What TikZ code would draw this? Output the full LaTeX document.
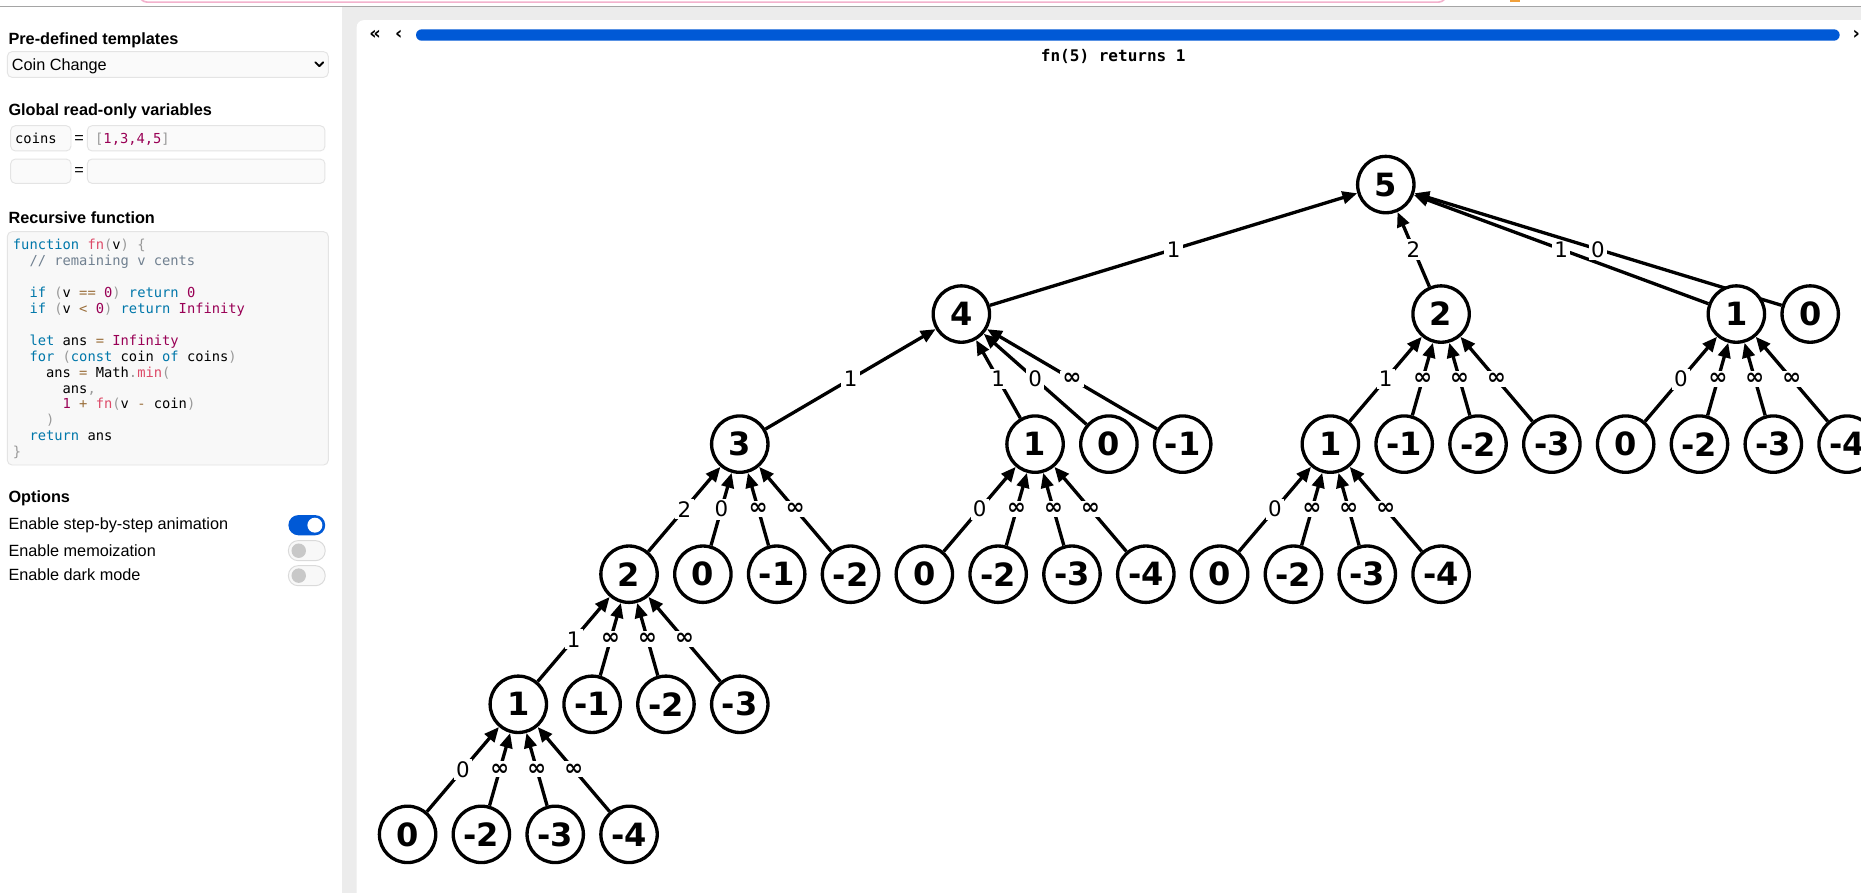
\documentclass[tikz,border=0pt]{standalone}
\usepackage{fontspec}
\setmainfont{Liberation Sans}
\newfontfamily\uifont{Liberation Sans}
\newfontfamily\numfont{DejaVu Sans}
\newfontfamily\monofont{DejaVu Sans Mono}
\usetikzlibrary{arrows.meta}
\pgfdeclarelayer{bg}
\pgfdeclarelayer{edges}
\pgfsetlayers{bg,edges,main}
\definecolor{kwc}{RGB}{0,119,170}
\definecolor{fnc}{RGB}{221,74,104}
\definecolor{numc}{RGB}{153,0,85}
\definecolor{cmtc}{RGB}{112,128,144}
\definecolor{opc}{RGB}{154,110,58}
\definecolor{punc}{RGB}{153,153,153}
\definecolor{panelgray}{RGB}{236,236,236}
\definecolor{linegray}{RGB}{165,165,165}
\definecolor{pinkline}{RGB}{243,178,205}
\definecolor{barblue}{RGB}{0,89,214}
\definecolor{boxfill}{RGB}{250,250,250}
\definecolor{boxline}{RGB}{228,228,228}
\definecolor{knobgray}{RGB}{200,200,200}
\definecolor{orangebit}{RGB}{240,160,60}
\newcommand\ckw[1]{\textcolor{kwc}{#1}}
\newcommand\cfnn[1]{\textcolor{fnc}{#1}}
\newcommand\cnum[1]{\textcolor{numc}{#1}}
\newcommand\ccmt[1]{\textcolor{cmtc}{#1}}
\newcommand\cop[1]{\textcolor{opc}{#1}}
\newcommand\cpun[1]{\textcolor{punc}{#1}}
\newcommand\infsym{{\bfseries\fontsize{19}{19}\selectfont ∞}}
\tikzset{
  uitext/.style={anchor=base west, inner sep=0pt, font={\uifont\fontsize{13.7}{16}\selectfont}},
  uihead/.style={uitext, font={\uifont\bfseries\fontsize{13.7}{16}\selectfont}},
  codeline/.style={anchor=base west, inner sep=0pt, font={\monofont\fontsize{11.6}{13}\selectfont}},
  uibox/.style={fill=boxfill, draw=boxline, line width=0.8pt, rounded corners=4pt},
  circ/.style={circle, draw, line width=2.8pt, fill=white, minimum size=47.5pt, inner sep=0pt,
    font={\numfont\bfseries\fontsize{27}{27}\selectfont}},
  edge/.style={line width=2.8pt, -{Triangle[length=12.5pt,width=10.5pt]}},
  lbl/.style={fill=white, inner sep=2pt, font={\numfont\fontsize{18}{18}\selectfont}},
  ctrl/.style={inner sep=0pt, font={\numfont\bfseries\fontsize{15}{15}\selectfont}}
}
\begin{document}
\begin{tikzpicture}[x=1pt,y=-1pt]
\useasboundingbox (0,0) rectangle (1568,752);
\begin{pgfonlayer}{bg}
  \fill[white] (0,0) rectangle (1568,752);
  \fill[panelgray] (288,5.5) rectangle (1568,752);
  \fill[white, rounded corners=6pt] (300.5,17) rectangle (1590,770);
  \draw[linegray, line width=1.2pt] (0,5.5) -- (1568,5.5);
  \draw[pinkline, line width=1.4pt] (117,-6) to[out=-90,in=180] (124,1.8) -- (1212,1.8) to[out=0,in=-90] (1219,-6);
  \fill[orangebit] (1272,-1) rectangle (1281,2);
  % left panel controls
  \path[uibox] (6.2,43.5) rectangle (276.6,65.2);
  \path[uibox] (9,105.9) rectangle (59.8,127.2);
  \path[uibox] (73.6,105.9) rectangle (273.8,127.2);
  \path[uibox] (9,134) rectangle (59.8,154.5);
  \path[uibox] (73.6,134) rectangle (273.8,154.5);
  \path[uibox, fill={rgb,255:red,248;green,248;blue,248}] (6.2,195.2) rectangle (276.6,391.8);
  % blue progress bar
  \fill[barblue, rounded corners=4.8pt] (350.5,24.7) rectangle (1550,34.3);
\end{pgfonlayer}

% ---------- left panel ----------
\node[uihead] (h1) at (7,37.3) {Pre-defined templates};
\node[uitext] (dd) at (9.8,59) {Coin Change};
\draw[line width=1.5pt, line cap=round, line join=round] (265.6,52.4) -- (269,55.8) -- (272.4,52.4);
\node[uihead] (h2) at (7,96.9) {Global read-only variables};
\node[codeline] (cv) at (12.6,121.3) {coins};
\node[uitext, anchor=center] (eq1) at (66.6,117.5) {=};
\node[codeline] (cval) at (80,121.3) {\cpun{[}\cnum{1,3,4,5}\cpun{]}};
\node[uitext, anchor=center] (eq2) at (66.6,144.3) {=};
\node[uihead] (h3) at (7,188.7) {Recursive function};
\node[codeline] (l1) at (10.7,210.6) {\ckw{function} \cfnn{fn}\cpun{(}v\cpun{)} \cpun{\{}};
\node[codeline] (l2) at (10.7,224.0) {~~\ccmt{// remaining v cents}};
\node[codeline] (l4) at (10.7,250.8) {~~\ckw{if} \cpun{(}v \cop{==} \cnum{0}\cpun{)} \ckw{return} \cnum{0}};
\node[codeline] (l5) at (10.7,264.2) {~~\ckw{if} \cpun{(}v \cop{<} \cnum{0}\cpun{)} \ckw{return} \cnum{Infinity}};
\node[codeline] (l7) at (10.7,291.0) {~~\ckw{let} ans \cop{=} \cnum{Infinity}};
\node[codeline] (l8) at (10.7,304.4) {~~\ckw{for} \cpun{(}\ckw{const} coin \ckw{of} coins\cpun{)}};
\node[codeline] (l9) at (10.7,317.8) {~~~~ans \cop{=} Math\cpun{.}\cfnn{min}\cpun{(}};
\node[codeline] (l10) at (10.7,331.2) {~~~~~~ans\cpun{,}};
\node[codeline] (l11) at (10.7,344.6) {~~~~~~\cnum{1} \cop{+} \cfnn{fn}\cpun{(}v \cop{-} coin\cpun{)}};
\node[codeline] (l12) at (10.7,358.0) {~~~~\cpun{)}};
\node[codeline] (l13) at (10.7,371.4) {~~\ckw{return} ans};
\node[codeline] (l14) at (10.7,384.8) {\cpun{\}}};
\node[uihead] (h4) at (7,423.5) {Options};
\node[uitext] (o1) at (7,446.5) {Enable step-by-step animation};
\node[uitext] (o2) at (7,468.5) {Enable memoization};
\node[uitext] (o3) at (7,489.5) {Enable dark mode};
\fill[barblue, rounded corners=8.4pt] (243,434) rectangle (274,451);
\fill[white] (265.3,442.5) circle (6.3);
\filldraw[fill={rgb,255:red,248;green,248;blue,248}, draw={rgb,255:red,218;green,218;blue,218}, line width=0.8pt, rounded corners=8.2pt] (243,455.5) rectangle (274,472.4);
\fill[knobgray] (251.7,464) circle (6.1);
\filldraw[fill={rgb,255:red,248;green,248;blue,248}, draw={rgb,255:red,218;green,218;blue,218}, line width=0.8pt, rounded corners=8.2pt] (243,476.6) rectangle (274,493.5);
\fill[knobgray] (251.7,485) circle (6.1);

% ---------- top controls ----------
\node[ctrl] (first) at (316,29) {«};
\node[ctrl] (prev) at (336,29) {‹};
\node[ctrl] (next) at (1564,29) {›};
\node[inner sep=0pt, font={\monofont\bfseries\fontsize{13.5}{14}\selectfont}] (title) at (938,48) {fn(5) returns 1};

% ---------- tree nodes ----------
\node[circ] (r) at (1167.6,155.5) {5};
\node[circ] (a) at (810,264.6) {4};
\node[circ] (b) at (1214.2,264.6) {2};
\node[circ] (c) at (1463,264.6) {1};
\node[circ] (d) at (1525.2,264.6) {0};
\node[circ] (a1) at (623.3,374.2) {3};
\node[circ] (a2) at (872.1,374.2) {1};
\node[circ] (a3) at (934.3,374.2) {0};
\node[circ] (a4) at (996.5,374.2) {-1};
\node[circ] (b1) at (1120.9,374.2) {1};
\node[circ] (b2) at (1183.1,374.2) {-1};
\node[circ] (b3) at (1245.3,374.2) {-2};
\node[circ] (b4) at (1307.5,374.2) {-3};
\node[circ] (c1) at (1369.7,374.2) {0};
\node[circ] (c2) at (1431.9,374.2) {-2};
\node[circ] (c3) at (1494.1,374.2) {-3};
\node[circ] (c4) at (1556.3,374.2) {-4};
\node[circ] (e1) at (530,483.8) {2};
\node[circ] (e2) at (592.2,483.8) {0};
\node[circ] (e3) at (654.4,483.8) {-1};
\node[circ] (e4) at (716.6,483.8) {-2};
\node[circ] (f1) at (778.8,483.8) {0};
\node[circ] (f2) at (841,483.8) {-2};
\node[circ] (f3) at (903.2,483.8) {-3};
\node[circ] (f4) at (965.4,483.8) {-4};
\node[circ] (g1) at (1027.6,483.8) {0};
\node[circ] (g2) at (1089.8,483.8) {-2};
\node[circ] (g3) at (1152,483.8) {-3};
\node[circ] (g4) at (1214.2,483.8) {-4};
\node[circ] (h1n) at (436.7,593.4) {1};
\node[circ] (h2n) at (498.9,593.4) {-1};
\node[circ] (h3n) at (561.1,593.4) {-2};
\node[circ] (h4n) at (623.3,593.4) {-3};
\node[circ] (k1) at (343.4,703) {0};
\node[circ] (k2) at (405.6,703) {-2};
\node[circ] (k3) at (467.8,703) {-3};
\node[circ] (k4) at (530,703) {-4};

% ---------- edges ----------
\begin{pgfonlayer}{edges}
  \draw[edge] (a) -- node[lbl]{1} (r);
  \draw[edge] (b) -- node[lbl]{2} (r);
  \draw[edge] (c) -- node[lbl]{1} (r);
  \draw[edge] (d) -- node[lbl]{0} (r);
  \draw[edge] (a1) -- node[lbl]{1} (a);
  \draw[edge] (a2) -- node[lbl]{1} (a);
  \draw[edge] (a3) -- node[lbl]{0} (a);
  \draw[edge] (a4) -- node[lbl]{\infsym} (a);
  \draw[edge] (b1) -- node[lbl]{1} (b);
  \draw[edge] (b2) -- node[lbl]{\infsym} (b);
  \draw[edge] (b3) -- node[lbl]{\infsym} (b);
  \draw[edge] (b4) -- node[lbl]{\infsym} (b);
  \draw[edge] (c1) -- node[lbl]{0} (c);
  \draw[edge] (c2) -- node[lbl]{\infsym} (c);
  \draw[edge] (c3) -- node[lbl]{\infsym} (c);
  \draw[edge] (c4) -- node[lbl]{\infsym} (c);
  \draw[edge] (e1) -- node[lbl]{2} (a1);
  \draw[edge] (e2) -- node[lbl]{0} (a1);
  \draw[edge] (e3) -- node[lbl]{\infsym} (a1);
  \draw[edge] (e4) -- node[lbl]{\infsym} (a1);
  \draw[edge] (f1) -- node[lbl]{0} (a2);
  \draw[edge] (f2) -- node[lbl]{\infsym} (a2);
  \draw[edge] (f3) -- node[lbl]{\infsym} (a2);
  \draw[edge] (f4) -- node[lbl]{\infsym} (a2);
  \draw[edge] (g1) -- node[lbl]{0} (b1);
  \draw[edge] (g2) -- node[lbl]{\infsym} (b1);
  \draw[edge] (g3) -- node[lbl]{\infsym} (b1);
  \draw[edge] (g4) -- node[lbl]{\infsym} (b1);
  \draw[edge] (h1n) -- node[lbl]{1} (e1);
  \draw[edge] (h2n) -- node[lbl]{\infsym} (e1);
  \draw[edge] (h3n) -- node[lbl]{\infsym} (e1);
  \draw[edge] (h4n) -- node[lbl]{\infsym} (e1);
  \draw[edge] (k1) -- node[lbl]{0} (h1n);
  \draw[edge] (k2) -- node[lbl]{\infsym} (h1n);
  \draw[edge] (k3) -- node[lbl]{\infsym} (h1n);
  \draw[edge] (k4) -- node[lbl]{\infsym} (h1n);
\end{pgfonlayer}
\end{tikzpicture}
\end{document}
